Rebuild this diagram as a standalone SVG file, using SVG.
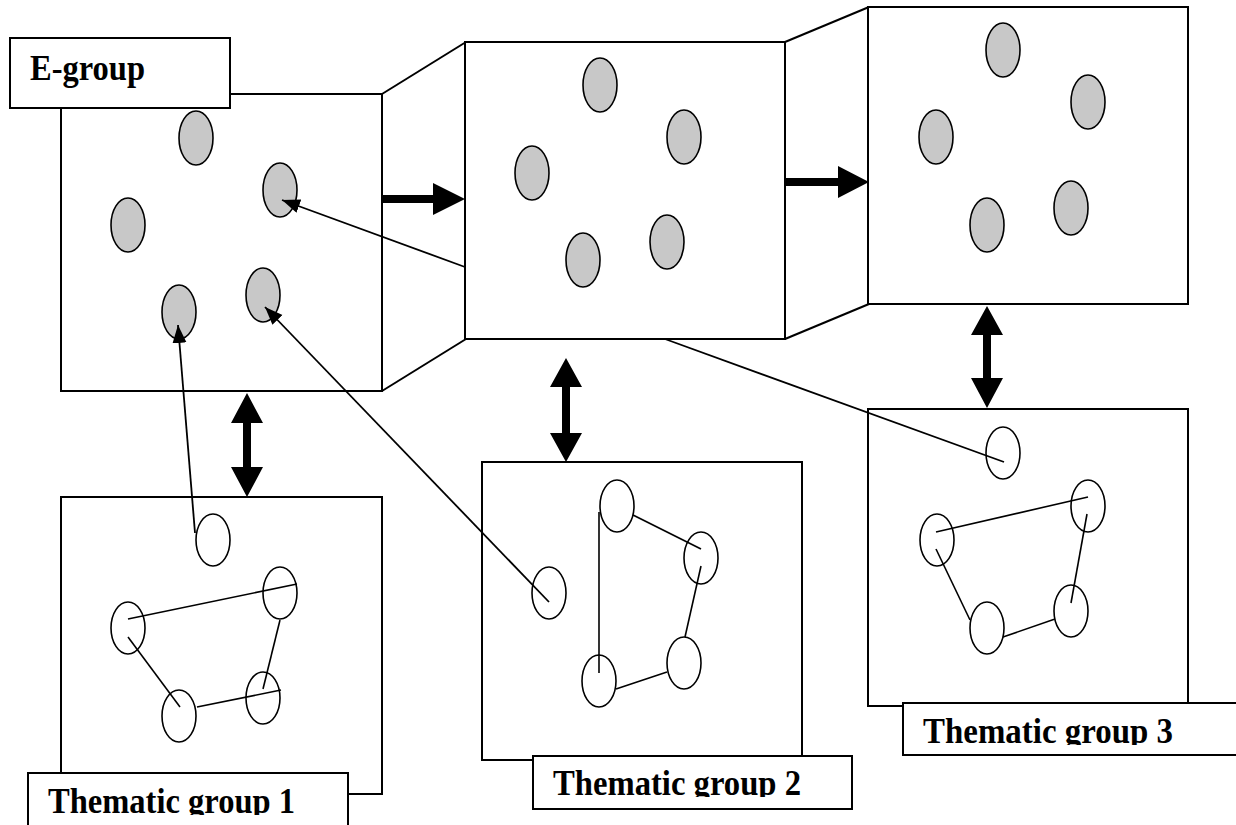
<svg xmlns="http://www.w3.org/2000/svg" width="1236" height="825" viewBox="0 0 1236 825">
<style>
.box{fill:#fff;stroke:#000;stroke-width:2}
.edge{fill:none;stroke:#000;stroke-width:2}
.gray{fill:#c8c8c8;stroke:#000;stroke-width:1.6}
.open{fill:none;stroke:#000;stroke-width:1.6}
.link{fill:none;stroke:#000;stroke-width:1.6}
.thin{fill:none;stroke:#000;stroke-width:1.8}
.lbl{font-family:"Liberation Serif","Times New Roman",serif;font-weight:bold;font-size:35px;fill:#000}
.fat{fill:#000;stroke:none}
</style>
<defs>
<marker id="ah" markerUnits="userSpaceOnUse" markerWidth="20" markerHeight="16" refX="18" refY="7" orient="auto">
<path d="M0,0 L18,7 L0,14 Z" fill="#000"/>
</marker>
<clipPath id="c1"><rect x="0" y="0" width="1236" height="815"/></clipPath>
<clipPath id="c2"><rect x="0" y="0" width="1236" height="797"/></clipPath>
<clipPath id="c3"><rect x="0" y="0" width="1236" height="745"/></clipPath>
</defs>

<g id="egroup">
<rect class="box" x="61" y="94" width="321" height="297"/>
<ellipse class="gray" cx="196" cy="138" rx="17" ry="27"/>
<ellipse class="gray" cx="280" cy="190" rx="17" ry="27"/>
<ellipse class="gray" cx="128" cy="225" rx="17" ry="27"/>
<ellipse class="gray" cx="179" cy="312" rx="17" ry="27"/>
<ellipse class="gray" cx="263" cy="295" rx="17" ry="27"/>
<rect class="box" x="10" y="38" width="220" height="70"/>
<text class="lbl" x="30" y="80" textLength="115" lengthAdjust="spacingAndGlyphs">E-group</text>
</g>

<g id="egroup-2">
<polyline class="edge" points="382,94 466,42"/>
<polyline class="edge" points="382,391 466,339"/>
<rect class="box" x="465" y="42" width="320" height="297"/>
<ellipse class="gray" cx="600" cy="85" rx="17" ry="27"/>
<ellipse class="gray" cx="684" cy="137" rx="17" ry="27"/>
<ellipse class="gray" cx="532" cy="173" rx="17" ry="27"/>
<ellipse class="gray" cx="583" cy="260" rx="17" ry="27"/>
<ellipse class="gray" cx="667" cy="242" rx="17" ry="27"/>
</g>

<g id="egroup-3">
<polyline class="edge" points="785,42 869,7"/>
<polyline class="edge" points="785,339 869,304"/>
<rect class="box" x="868" y="7" width="320" height="297"/>
<ellipse class="gray" cx="1003" cy="50" rx="17" ry="27"/>
<ellipse class="gray" cx="1088" cy="102" rx="17" ry="27"/>
<ellipse class="gray" cx="936" cy="137" rx="17" ry="27"/>
<ellipse class="gray" cx="987" cy="225" rx="17" ry="27"/>
<ellipse class="gray" cx="1071" cy="208" rx="17" ry="27"/>
</g>

<g id="thematic1">
<rect class="box" x="61" y="497" width="321" height="297"/>
<ellipse class="open" cx="213" cy="540" rx="17" ry="26"/>
<ellipse class="open" cx="128" cy="628" rx="17" ry="26"/>
<ellipse class="open" cx="280" cy="593" rx="17" ry="26"/>
<ellipse class="open" cx="179" cy="716" rx="17" ry="26"/>
<ellipse class="open" cx="263" cy="698" rx="17" ry="26"/>
<line class="link" x1="128" y1="619" x2="297" y2="584"/>
<line class="link" x1="128" y1="637" x2="180" y2="707"/>
<line class="link" x1="280" y1="620" x2="263" y2="689"/>
<line class="link" x1="197" y1="707" x2="281" y2="690"/>
<rect class="box" x="28" y="773" width="320" height="60"/>
<text class="lbl" x="48" y="813" clip-path="url(#c1)" textLength="247" lengthAdjust="spacingAndGlyphs">Thematic group 1</text>
</g>

<g id="thematic2">
<rect class="box" x="482" y="462" width="320" height="298"/>
<ellipse class="open" cx="549" cy="593" rx="17" ry="26"/>
<ellipse class="open" cx="617" cy="506" rx="17" ry="26"/>
<ellipse class="open" cx="701" cy="558" rx="17" ry="26"/>
<ellipse class="open" cx="599" cy="681" rx="17" ry="26"/>
<ellipse class="open" cx="684" cy="663" rx="17" ry="26"/>
<line class="link" x1="599" y1="512" x2="599" y2="673"/>
<line class="link" x1="633" y1="515" x2="701" y2="549"/>
<line class="link" x1="701" y1="566" x2="685" y2="637"/>
<line class="link" x1="616" y1="689" x2="667" y2="672"/>
<rect class="box" x="533" y="756" width="319" height="53"/>
<text class="lbl" x="553" y="795" clip-path="url(#c2)" textLength="248" lengthAdjust="spacingAndGlyphs">Thematic group 2</text>
</g>

<g id="thematic3">
<rect class="box" x="868" y="409" width="320" height="297"/>
<ellipse class="open" cx="1003" cy="453" rx="17" ry="26"/>
<ellipse class="open" cx="937" cy="540" rx="17" ry="26"/>
<ellipse class="open" cx="1088" cy="506" rx="17" ry="26"/>
<ellipse class="open" cx="987" cy="628" rx="17" ry="26"/>
<ellipse class="open" cx="1071" cy="611" rx="17" ry="26"/>
<line class="link" x1="936" y1="532" x2="1088" y2="497"/>
<line class="link" x1="936" y1="549" x2="970" y2="620"/>
<line class="link" x1="1087" y1="514" x2="1071" y2="603"/>
<line class="link" x1="1003" y1="637" x2="1055" y2="619"/>
<rect class="box" x="903" y="703" width="350" height="52"/>
<text class="lbl" x="923" y="743" clip-path="url(#c3)" textLength="250" lengthAdjust="spacingAndGlyphs">Thematic group 3</text>
</g>

<g id="connectors">
<path class="fat" d="M382,195 L433,195 L433,183 L465,199 L433,215 L433,203 L382,203 Z"/>
<path class="fat" d="M785,178 L838,178 L838,166 L869,182 L838,198 L838,186 L785,186 Z"/>
<path class="fat" d="M247,393 L263,423 L251,423 L251,467 L263,467 L247,497 L231,467 L243,467 L243,423 L231,423 Z"/>
<path class="fat" d="M566,358 L582,387 L570,387 L570,433 L582,433 L566,462 L550,433 L562,433 L562,387 L550,387 Z"/>
<path class="fat" d="M987,306 L1003,335 L991,335 L991,378 L1003,378 L987,408 L971,378 L983,378 L983,335 L971,335 Z"/>
<line class="thin" x1="465" y1="267" x2="282" y2="200" marker-end="url(#ah)"/>
<line class="thin" x1="195" y1="533" x2="178" y2="325" marker-end="url(#ah)"/>
<line class="thin" x1="549" y1="602" x2="265" y2="307" marker-end="url(#ah)"/>
<line class="thin" x1="665" y1="339" x2="1004" y2="462"/>
</g>
</svg>
